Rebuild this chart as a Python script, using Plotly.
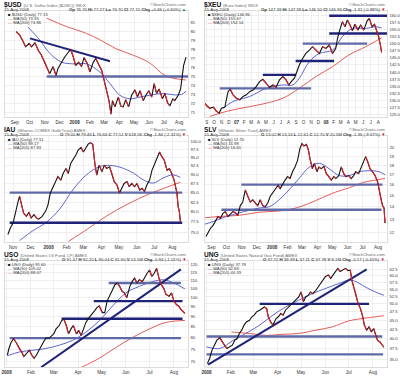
import math
import plotly.graph_objects as go

FONT = "Liberation Sans"
W, H = 400, 380

# ===================== $USD =====================
USD_DATES = ["2007-09-04","2007-09-11","2007-09-18","2007-09-23","2007-09-30","2007-10-05","2007-10-12",
             "2007-10-19","2007-10-25","2007-11-01","2007-11-08","2007-11-11","2007-11-18","2007-11-24",
             "2007-11-28","2007-12-05","2007-12-12","2007-12-19","2007-12-24","2007-12-29","2008-01-03",
             "2008-01-09","2008-01-15","2008-01-20","2008-01-27","2008-02-01","2008-02-08","2008-02-13",
             "2008-02-18","2008-02-25","2008-03-01","2008-03-06","2008-03-11","2008-03-15","2008-03-18",
             "2008-03-23","2008-03-30","2008-04-04","2008-04-09","2008-04-14","2008-04-20","2008-04-26",
             "2008-05-03","2008-05-08","2008-05-13","2008-05-20","2008-05-25","2008-05-31","2008-06-06",
             "2008-06-11","2008-06-16","2008-06-21","2008-06-28","2008-07-03","2008-07-08","2008-07-13",
             "2008-07-19","2008-07-23","2008-07-30","2008-08-04","2008-08-07","2008-08-10","2008-08-13",
             "2008-08-15"]
USD_CLOSE = [80.0,79.6,78.9,78.3,78.7,78.3,78.75,77.9,77.4,76.6,75.7,75.3,76.1,75.1,75.9,76.6,77.2,77.7,
             78.0,77.2,76.2,76.6,76.1,77.1,76.4,75.5,76.6,77.0,76.4,75.7,74.6,73.4,72.3,70.8,72.3,71.6,
             72.7,71.7,71.6,72.4,71.6,72.9,73.5,72.7,73.4,72.3,72.9,73.4,72.7,74.2,73.1,73.6,72.5,73.1,
             72.1,71.7,72.5,72.3,72.9,73.6,74.9,76.2,76.8,77.15]
USD_MA50_DATES = ["2007-09-28","2007-10-22","2007-11-11","2007-12-05","2007-12-29","2008-01-25","2008-02-21",
                  "2008-03-13","2008-04-02","2008-04-23","2008-05-13","2008-06-02","2008-06-30","2008-07-20",
                  "2008-08-06","2008-08-15"]
USD_MA50 = [80.5,79.05,77.6,76.6,76.4,76.4,75.5,74.2,72.9,72.5,72.7,72.9,73.1,72.95,73.0,73.35]
USD_MA200_DATES = ["2007-11-05","2007-12-16","2008-01-25","2008-02-21","2008-03-25","2008-04-28","2008-06-02",
                   "2008-07-05","2008-08-15"]
USD_MA200 = [81.5,80.55,79.8,79.1,78.1,77.4,76.5,75.05,74.6]
USD_LEVEL_START = ["2007-11-05"]
USD_LEVEL_END = ["2008-08-19"]
USD_LEVEL_VALUE = [75.0]
USD_LEVEL_DARK = [False]
USD_TREND_DATES = [["2007-10-02", "2008-03-13"]]
USD_TREND_VALUES = [[79.25, 76.7]]
USD_YTICKS = [71, 72, 73, 74, 75, 76, 77, 78, 79, 80, 81]
USD_YTICKTEXT = ["71", "72", "73", "74", "75", "76", "77", "78", "79", "80", "81"]
USD_XTICKS = ["2007-09-01","2007-10-01","2007-11-01","2007-12-01","2008-01-01","2008-02-01","2008-03-01",
              "2008-04-01","2008-05-01","2008-06-01","2008-07-01","2008-08-01"]
USD_XTICKTEXT = ["Sep","Oct","Nov","Dec","<b>2008</b>","Feb","Mar","Apr","May","Jun","Jul","Aug"]

# ===================== $XEU =====================
XEU_DATES = ["2006-08-25","2006-09-01","2006-09-14","2006-09-28","2006-10-11","2006-10-22","2006-10-31",
             "2006-11-14","2006-11-27","2006-12-06","2006-12-17","2006-12-31","2007-01-14","2007-01-27",
             "2007-02-10","2007-02-23","2007-03-09","2007-03-22","2007-04-05","2007-04-18","2007-05-02",
             "2007-05-15","2007-05-29","2007-06-11","2007-06-25","2007-07-09","2007-07-22","2007-08-02",
             "2007-08-12","2007-08-25","2007-09-04","2007-09-14","2007-09-28","2007-10-11","2007-10-25",
             "2007-11-07","2007-11-21","2007-12-05","2007-12-18","2008-01-01","2008-01-14","2008-01-28",
             "2008-02-10","2008-02-17","2008-02-26","2008-03-08","2008-03-19","2008-03-28","2008-04-08",
             "2008-04-18","2008-04-28","2008-05-10","2008-05-21","2008-06-03","2008-06-17","2008-06-26",
             "2008-07-07","2008-07-17","2008-07-27","2008-08-03","2008-08-10","2008-08-15"]
XEU_CLOSE = [128.9,128.0,127.1,127.5,126.0,125.4,127.1,127.5,133.0,133.9,131.9,130.7,130.1,131.3,131.9,
             133.0,133.6,134.8,136.6,137.4,136.0,134.6,135.4,134.6,137.2,138.4,137.2,135.4,136.6,137.8,
             140.1,142.5,144.9,146.6,147.8,149.0,147.8,146.6,149.0,148.4,149.6,146.6,148.4,152.0,154.9,
             157.9,156.1,158.5,156.7,154.7,157.0,154.9,156.7,154.9,158.2,159.1,156.1,157.0,154.3,152.6,
             149.6,146.96]
XEU_MA50_DATES = ["2006-11-07","2006-12-17","2007-02-23","2007-05-02","2007-07-09","2007-08-18","2007-09-14",
                  "2007-10-25","2007-12-05","2008-01-28","2008-03-08","2008-04-18","2008-06-11","2008-07-21",
                  "2008-08-15"]
XEU_MA50 = [127.1,129.5,131.3,134.2,135.4,135.4,137.8,143.7,146.6,147.8,152.6,155.5,155.5,156.1,155.67]
XEU_MA200_DATES = ["2006-09-14","2006-11-21","2007-02-23","2007-05-02","2007-07-09","2007-09-14","2007-11-21",
                   "2008-01-28","2008-04-04","2008-06-11","2008-08-15"]
XEU_MA200 = [124.2,126.0,127.7,128.9,130.7,134.2,138.4,141.9,146.1,149.0,152.14]
XEU_LEVEL_START = ["2008-01-14","2008-01-14","2007-09-28","2007-08-30","2007-04-18","2006-10-24"]
XEU_LEVEL_END = ["2008-09-06","2008-09-06","2008-06-17","2008-02-03","2007-09-01","2007-11-01"]
XEU_LEVEL_VALUE = [160.0,153.7,150.1,143.9,139.0,134.2]
XEU_LEVEL_DARK = [True,True,False,True,True,False]
XEU_TREND_DATES = []
XEU_TREND_VALUES = []
XEU_YTICKS = [125.0,127.5,130.0,132.5,135.0,137.5,140.0,142.5,145.0,147.5,150.0,152.5,155.0,157.5,160.0]
XEU_YTICKTEXT = ["125.0","127.5","130.0","132.5","135.0","137.5","140.0","142.5","145.0","147.5","150.0",
                 "152.5","155.0","157.5","160.0"]
XEU_XTICKS = ["2006-09-01","2006-10-01","2006-11-01","2006-12-01","2007-01-01","2007-02-01","2007-03-01",
              "2007-04-01","2007-05-01","2007-06-01","2007-07-01","2007-08-01","2007-09-01","2007-10-01",
              "2007-11-01","2007-12-01","2008-01-01","2008-02-01","2008-03-01","2008-04-01","2008-05-01",
              "2008-06-01","2008-07-01","2008-08-01"]
XEU_XTICKTEXT = ["S","O","N","D","<b>07</b>","F","M","A","M","J","J","A","S","O","N","D","<b>08</b>",
                 "F","M","A","M","J","J","A"]

# ===================== IAU =====================
IAU_DATES = ["2007-10-23","2007-10-27","2007-11-01","2007-11-05","2007-11-09","2007-11-12","2007-11-15",
             "2007-11-19","2007-11-24","2007-11-28","2007-12-02","2007-12-07","2007-12-11","2007-12-15",
             "2007-12-21","2007-12-27","2007-12-31","2008-01-04","2008-01-09","2008-01-13","2008-01-17",
             "2008-01-22","2008-01-26","2008-01-31","2008-02-04","2008-02-08","2008-02-12","2008-02-17",
             "2008-02-21","2008-02-26","2008-03-01","2008-03-05","2008-03-09","2008-03-13","2008-03-17",
             "2008-03-21","2008-03-24","2008-03-28","2008-04-02","2008-04-06","2008-04-10","2008-04-15",
             "2008-04-19","2008-04-23","2008-04-28","2008-05-02","2008-05-06","2008-05-10","2008-05-15",
             "2008-05-19","2008-05-23","2008-05-28","2008-06-01","2008-06-06","2008-06-10","2008-06-14",
             "2008-06-18","2008-06-23","2008-06-27","2008-07-01","2008-07-06","2008-07-10","2008-07-14",
             "2008-07-18","2008-07-23","2008-07-27","2008-07-31","2008-08-04","2008-08-09","2008-08-11",
             "2008-08-13","2008-08-15"]
IAU_CLOSE = [74.5,76.0,77.3,80.2,82.3,84.1,82.1,79.7,78.9,79.9,78.5,79.3,78.5,78.2,78.9,80.2,81.8,84.9,
             86.6,88.0,89.4,88.4,90.3,91.7,90.3,93.2,94.2,95.7,97.2,98.0,96.6,98.0,99.0,99.5,99.0,92.7,
             89.8,92.7,90.8,92.7,91.7,92.2,90.3,88.0,87.0,84.9,86.2,87.5,88.0,86.6,87.5,86.6,87.5,85.7,
             86.2,85.3,87.0,88.5,91.2,92.7,94.7,96.6,95.2,94.2,91.2,91.7,90.3,88.5,84.9,81.4,80.2,77.51]
IAU_MA50_DATES = ["2007-11-12","2007-12-05","2007-12-28","2008-01-20","2008-02-12","2008-03-06","2008-03-29",
                  "2008-04-15","2008-05-03","2008-05-26","2008-06-12","2008-06-29","2008-07-16","2008-08-02",
                  "2008-08-15"]
IAU_MA50 = [73.1,75.4,77.4,80.7,85.8,89.9,92.3,92.6,92.1,90.4,88.5,87.6,89.0,89.9,89.17]
IAU_MA200_DATES = ["2008-02-04","2008-03-08","2008-04-10","2008-05-15","2008-06-23","2008-07-23","2008-08-15"]
IAU_MA200 = [72.9,75.8,79.0,81.9,84.7,86.5,87.83]
IAU_LEVEL_START = ["2007-10-26","2007-10-26"]
IAU_LEVEL_END = ["2008-08-18","2008-08-18"]
IAU_LEVEL_VALUE = [85.0,77.3]
IAU_LEVEL_DARK = [False,True]
IAU_TREND_DATES = []
IAU_TREND_VALUES = []
IAU_YTICKS = [75.0,77.5,80.0,82.5,85.0,87.5,90.0,92.5,95.0,97.5,100.0]
IAU_YTICKTEXT = ["75.0","77.5","80.0","82.5","85.0","87.5","90.0","92.5","95.0","97.5","100.0"]
IAU_XTICKS = ["2007-11-01","2007-12-01","2008-01-01","2008-02-01","2008-03-01","2008-04-01","2008-05-01",
              "2008-06-01","2008-07-01","2008-08-01"]
IAU_XTICKTEXT = ["Nov","Dec","<b>2008</b>","Feb","Mar","Apr","May","Jun","Jul","Aug"]

# ===================== SLV =====================
SLV_DATES = ["2007-08-21","2007-08-25","2007-08-30","2007-09-04","2007-09-09","2007-09-14","2007-09-19",
             "2007-09-24","2007-09-29","2007-10-04","2007-10-09","2007-10-14","2007-10-19","2007-10-24",
             "2007-10-29","2007-11-03","2007-11-08","2007-11-13","2007-11-18","2007-11-23","2007-11-28",
             "2007-12-03","2007-12-08","2007-12-13","2007-12-18","2007-12-23","2007-12-28","2008-01-02",
             "2008-01-07","2008-01-13","2008-01-17","2008-01-22","2008-01-27","2008-02-01","2008-02-06",
             "2008-02-11","2008-02-16","2008-02-21","2008-02-26","2008-03-01","2008-03-05","2008-03-10",
             "2008-03-14","2008-03-17","2008-03-22","2008-03-26","2008-03-31","2008-04-04","2008-04-09",
             "2008-04-14","2008-04-19","2008-04-24","2008-04-29","2008-05-04","2008-05-08","2008-05-14",
             "2008-05-19","2008-05-24","2008-05-28","2008-06-03","2008-06-08","2008-06-13","2008-06-17",
             "2008-06-23","2008-06-28","2008-07-03","2008-07-07","2008-07-11","2008-07-16","2008-07-21",
             "2008-07-26","2008-07-31","2008-08-04","2008-08-07","2008-08-10","2008-08-13","2008-08-15"]
SLV_CLOSE = [11.7,12.0,12.3,12.5,12.9,13.2,13.05,13.45,13.6,13.2,13.4,13.6,13.5,13.3,14.1,14.4,15.5,14.9,
             14.4,14.6,14.3,14.1,14.6,14.1,14.0,14.3,14.9,15.2,15.6,15.95,15.6,16.1,16.45,16.8,16.6,17.3,
             17.8,18.5,19.9,20.5,20.2,20.4,19.7,18.75,17.6,18.2,17.3,17.8,17.6,17.9,17.1,16.8,16.45,16.8,
             16.6,16.9,17.8,17.1,16.8,16.9,16.6,16.9,17.3,17.1,17.8,18.4,18.95,18.4,17.6,17.3,16.9,16.3,
             15.3,14.6,14.1,13.9,12.70]
SLV_MA50_DATES = ["2007-08-18","2007-09-04","2007-10-01","2007-10-27","2007-11-16","2007-12-06","2007-12-26",
                  "2008-01-15","2008-02-04","2008-02-24","2008-03-16","2008-04-05","2008-04-25","2008-05-15",
                  "2008-06-04","2008-06-24","2008-07-14","2008-08-03","2008-08-15"]
SLV_MA50 = [12.6,12.8,13.2,13.5,13.7,13.9,14.0,14.6,15.5,16.6,17.8,18.2,17.6,16.9,16.9,17.3,17.4,17.3,16.98]
SLV_MA200_DATES = ["2007-08-18","2007-09-17","2007-10-27","2007-12-06","2008-01-15","2008-02-18","2008-03-16",
                   "2008-04-11","2008-05-08","2008-06-04","2008-07-01","2008-07-21","2008-08-15"]
SLV_MA200 = [13.1,13.2,13.3,13.55,13.65,13.9,14.3,14.8,15.3,15.7,16.2,16.4,16.61]
SLV_LEVEL_START = ["2007-10-31","2007-09-21"]
SLV_LEVEL_END = ["2008-08-10","2008-08-08"]
SLV_LEVEL_VALUE = [16.0,13.75]
SLV_LEVEL_DARK = [False,False]
SLV_TREND_DATES = []
SLV_TREND_VALUES = []
SLV_YTICKS = [12,13,14,15,16,17,18,19,20]
SLV_YTICKTEXT = ["12","13","14","15","16","17","18","19","20"]
SLV_XTICKS = USD_XTICKS
SLV_XTICKTEXT = USD_XTICKTEXT

# ===================== USO =====================
USO_DATES = ["2008-01-02","2008-01-04","2008-01-07","2008-01-10","2008-01-14","2008-01-17","2008-01-20",
             "2008-01-23","2008-01-26","2008-01-30","2008-02-02","2008-02-05","2008-02-08","2008-02-12",
             "2008-02-14","2008-02-17","2008-02-20","2008-02-24","2008-02-27","2008-03-01","2008-03-04",
             "2008-03-08","2008-03-11","2008-03-14","2008-03-17","2008-03-20","2008-03-23","2008-03-26",
             "2008-03-30","2008-04-02","2008-04-05","2008-04-08","2008-04-11","2008-04-15","2008-04-18",
             "2008-04-22","2008-04-25","2008-04-28","2008-05-02","2008-05-05","2008-05-08","2008-05-11",
             "2008-05-15","2008-05-18","2008-05-21","2008-05-24","2008-05-27","2008-05-30","2008-06-02",
             "2008-06-06","2008-06-09","2008-06-12","2008-06-15","2008-06-18","2008-06-22","2008-06-25",
             "2008-06-28","2008-07-01","2008-07-04","2008-07-07","2008-07-10","2008-07-13","2008-07-16",
             "2008-07-19","2008-07-22","2008-07-26","2008-07-29","2008-08-01","2008-08-04","2008-08-07",
             "2008-08-10","2008-08-15"]
USO_CLOSE = [72.6,75.3,78.1,79.5,77.4,75.3,73.9,72.0,73.3,74.6,72.6,71.3,72.6,75.3,76.7,78.1,79.8,79.8,
             80.7,81.7,84.0,85.6,87.9,88.7,85.6,81.7,84.0,85.6,81.7,83.3,81.0,84.0,87.1,89.5,91.2,92.9,
             94.6,95.5,92.0,92.0,98.1,100.8,104.6,107.5,108.5,106.5,103.6,102.7,99.9,106.5,109.5,111.5,
             108.5,110.5,109.5,112.5,114.6,116.7,112.5,114.6,117.8,111.5,107.5,105.5,101.8,100.8,102.7,
             98.1,96.3,95.5,93.7,91.60]
USO_MA50_DATES = ["2008-01-02","2008-01-18","2008-02-04","2008-02-20","2008-03-08","2008-03-25","2008-04-11",
                  "2008-04-28","2008-05-15","2008-06-01","2008-06-18","2008-07-06","2008-07-19","2008-08-01",
                  "2008-08-15"]
USO_MA50 = [72.3,73.9,74.6,75.3,76.7,78.8,82.5,87.9,95.5,102.7,106.5,109.5,110.5,108.5,105.02]
USO_MA200_DATES = ["2008-04-06","2008-04-28","2008-05-20","2008-06-10","2008-07-01","2008-07-22","2008-08-15"]
USO_MA200 = [67.9,71.3,75.9,80.2,84.0,87.1,88.07]
USO_LEVEL_START = ["2008-05-10","2008-04-21","2008-03-11","2008-01-05"]
USO_LEVEL_END = ["2008-08-10","2008-08-12","2008-08-12","2008-08-10"]
USO_LEVEL_VALUE = [108.5,98.1,88.9,79.8]
USO_LEVEL_DARK = [False,True,True,False]
USO_TREND_DATES = [["2008-02-14", "2008-08-10"]]
USO_TREND_VALUES = [[67.8, 117.1]]
USO_YTICKS = [70,75,80,85,90,95,100,105,110,115,120]
USO_YTICKTEXT = ["70","75","80","85","90","95","100","105","110","115","120"]
USO_XTICKS = ["2008-01-01","2008-02-01","2008-03-01","2008-04-01","2008-05-01","2008-06-01","2008-07-01",
              "2008-08-01"]
USO_XTICKTEXT = ["<b>2008</b>","Feb","Mar","Apr","May","Jun","Jul","Aug"]

# ===================== UNG =====================
UNG_DATES = ["2008-01-02","2008-01-05","2008-01-08","2008-01-11","2008-01-14","2008-01-18","2008-01-21",
             "2008-01-24","2008-01-27","2008-01-30","2008-02-03","2008-02-06","2008-02-09","2008-02-12",
             "2008-02-15","2008-02-18","2008-02-21","2008-02-25","2008-02-28","2008-03-02","2008-03-05",
             "2008-03-09","2008-03-12","2008-03-15","2008-03-18","2008-03-20","2008-03-23","2008-03-26",
             "2008-03-30","2008-04-02","2008-04-05","2008-04-08","2008-04-11","2008-04-15","2008-04-18",
             "2008-04-21","2008-04-24","2008-04-28","2008-05-01","2008-05-04","2008-05-07","2008-05-10",
             "2008-05-13","2008-05-16","2008-05-20","2008-05-23","2008-05-26","2008-05-29","2008-06-01",
             "2008-06-05","2008-06-08","2008-06-11","2008-06-14","2008-06-17","2008-06-20","2008-06-23",
             "2008-06-27","2008-06-30","2008-07-03","2008-07-05","2008-07-08","2008-07-10","2008-07-13",
             "2008-07-16","2008-07-19","2008-07-21","2008-07-24","2008-07-27","2008-07-30","2008-08-02",
             "2008-08-05","2008-08-07","2008-08-10","2008-08-15"]
UNG_CLOSE = [34.0,35.2,37.1,38.3,39.5,40.2,39.1,38.3,37.5,37.9,38.3,39.5,39.9,41.3,42.2,43.6,44.5,45.0,
             46.0,46.5,47.5,48.0,48.5,49.0,48.5,46.0,44.5,43.6,45.5,46.0,47.0,46.5,48.0,49.0,49.6,50.7,
             51.2,52.3,54.0,50.7,52.3,52.8,54.0,53.4,54.6,55.8,57.0,58.3,59.6,60.3,58.9,60.3,61.6,62.9,
             61.6,62.2,62.9,62.0,62.2,58.3,55.2,53.4,50.1,48.5,46.0,43.6,42.2,43.1,41.8,42.6,40.4,39.5,
             39.1,37.78]
UNG_MA50_DATES = ["2008-01-01","2008-01-18","2008-02-04","2008-02-20","2008-03-09","2008-03-26","2008-04-11",
                  "2008-04-28","2008-05-15","2008-06-01","2008-06-18","2008-07-01","2008-07-09","2008-07-22",
                  "2008-08-04","2008-08-15"]
UNG_MA50 = [37.9,37.5,39.5,41.3,43.6,46.5,49.0,51.2,53.4,55.2,57.0,58.3,57.9,55.8,54.0,52.89]
UNG_MA200_DATES = ["2008-02-02","2008-02-25","2008-03-18","2008-04-08","2008-04-28","2008-05-20","2008-06-10",
                   "2008-07-01","2008-07-22","2008-08-15"]
UNG_MA200 = [41.7,41.3,40.8,41.1,41.3,42.2,43.1,44.8,45.6,46.33]
UNG_LEVEL_START = ["2008-03-09","2008-01-01","2008-01-01"]
UNG_LEVEL_END = ["2008-07-27","2008-08-13","2008-08-14"]
UNG_LEVEL_VALUE = [50.0,40.5,36.1]
UNG_LEVEL_DARK = [True,False,False]
UNG_TREND_DATES = [["2008-01-03", "2008-07-24"]]
UNG_TREND_VALUES = [[33.8, 62.5]]
UNG_YTICKS = [35.0,37.5,40.0,42.5,45.0,47.5,50.0,52.5,55.0,57.5,60.0,62.5]
UNG_YTICKTEXT = ["35.0","37.5","40.0","42.5","45.0","47.5","50.0","52.5","55.0","57.5","60.0","62.5"]
UNG_XTICKS = USO_XTICKS
UNG_XTICKTEXT = USO_XTICKTEXT

# ===================== header texts =====================
SYMBOLS = ["$USD", "$XEU", "IAU", "SLV", "USO", "UNG"]
DESCS = ["(U.S. Dollar Index ($USD)) INDX", "(Euro Index) INDX", "(iShares COMEX Gold Trust) AMEX",
         "(iShares Silver Trust) AMEX", "(United States Oil Fund, LP) AMEX",
         "(United States Natural Gas Fund) AMEX"]
QUOTES = ["<b>Op</b> 76.70 <b>Hi</b> 77.27 <b>Lo</b> 76.70 <b>Cl</b> 77.15 <b>Chg</b> +0.46 (+0.60%)",
          "<b>Op</b> 147.39 <b>Hi</b> 147.39 <b>Lo</b> 146.50 <b>Cl</b> 146.96 <b>Chg</b> -1.31 (-0.88%)",
          "<b>O</b> 79.00 <b>H</b> 79.46 <b>L</b> 76.66 <b>C</b> 77.51 <b>V</b> 618.5K <b>Chg</b> -1.84 (-2.31%)",
          "<b>O</b> 13.02 <b>H</b> 13.16 <b>L</b> 12.61 <b>C</b> 12.70 <b>V</b> 20.5M <b>Chg</b> -1.36 (-9.67%)",
          "<b>O</b> 91.47 <b>H</b> 92.20 <b>L</b> 90.04 <b>C</b> 91.60 <b>V</b> 14.1M <b>Chg</b> -0.94 (-1.01%)",
          "<b>O</b> 37.72 <b>H</b> 38.39 <b>L</b> 37.11 <b>C</b> 37.78 <b>V</b> 8.1M <b>Chg</b> -0.17 (-0.45%)"]
UP = [True, False, False, False, False, False]
LAST = ["77.15", "146.96", "77.51", "12.70", "91.60", "37.78"]
MA50_LAST = ["73.35", "155.67", "89.17", "16.98", "105.02", "52.89"]
MA200_LAST = ["74.86", "152.14", "87.83", "16.61", "88.07", "46.33"]
DATE_TEXT = "15-Aug-2008"

SERIES = [
    dict(d=USD_DATES, c=USD_CLOSE, m50d=USD_MA50_DATES, m50=USD_MA50, m200d=USD_MA200_DATES, m200=USD_MA200,
         ls=USD_LEVEL_START, le=USD_LEVEL_END, lv=USD_LEVEL_VALUE, ldark=USD_LEVEL_DARK,
         td=USD_TREND_DATES, tv=USD_TREND_VALUES, yt=USD_YTICKS, ytt=USD_YTICKTEXT, xt=USD_XTICKS,
         xtt=USD_XTICKTEXT, xr=["2007-08-12", "2008-08-19"], yr=[70.44, 82.3], log=False),
    dict(d=XEU_DATES, c=XEU_CLOSE, m50d=XEU_MA50_DATES, m50=XEU_MA50, m200d=XEU_MA200_DATES, m200=XEU_MA200,
         ls=XEU_LEVEL_START, le=XEU_LEVEL_END, lv=XEU_LEVEL_VALUE, ldark=XEU_LEVEL_DARK,
         td=XEU_TREND_DATES, tv=XEU_TREND_VALUES, yt=XEU_YTICKS, ytt=XEU_YTICKTEXT, xt=XEU_XTICKS,
         xtt=XEU_XTICKTEXT, xr=["2006-08-25", "2008-09-06"], yr=[123.9, 161.7], log=False),
    dict(d=IAU_DATES, c=IAU_CLOSE, m50d=IAU_MA50_DATES, m50=IAU_MA50, m200d=IAU_MA200_DATES, m200=IAU_MA200,
         ls=IAU_LEVEL_START, le=IAU_LEVEL_END, lv=IAU_LEVEL_VALUE, ldark=IAU_LEVEL_DARK,
         td=IAU_TREND_DATES, tv=IAU_TREND_VALUES, yt=IAU_YTICKS, ytt=IAU_YTICKTEXT, xt=IAU_XTICKS,
         xtt=IAU_XTICKTEXT, xr=["2007-10-18", "2008-08-28"], yr=[72.7, 101.6], log=True),
    dict(d=SLV_DATES, c=SLV_CLOSE, m50d=SLV_MA50_DATES, m50=SLV_MA50, m200d=SLV_MA200_DATES, m200=SLV_MA200,
         ls=SLV_LEVEL_START, le=SLV_LEVEL_END, lv=SLV_LEVEL_VALUE, ldark=SLV_LEVEL_DARK,
         td=SLV_TREND_DATES, tv=SLV_TREND_VALUES, yt=SLV_YTICKS, ytt=SLV_YTICKTEXT, xt=SLV_XTICKS,
         xtt=SLV_XTICKTEXT, xr=["2007-08-19", "2008-08-19"], yr=[11.3, 21.46], log=True),
    dict(d=USO_DATES, c=USO_CLOSE, m50d=USO_MA50_DATES, m50=USO_MA50, m200d=USO_MA200_DATES, m200=USO_MA200,
         ls=USO_LEVEL_START, le=USO_LEVEL_END, lv=USO_LEVEL_VALUE, ldark=USO_LEVEL_DARK,
         td=USO_TREND_DATES, tv=USO_TREND_VALUES, yt=USO_YTICKS, ytt=USO_YTICKTEXT, xt=USO_XTICKS,
         xtt=USO_XTICKTEXT, xr=["2007-12-30", "2008-08-19"], yr=[67.8, 122.7], log=True),
    dict(d=UNG_DATES, c=UNG_CLOSE, m50d=UNG_MA50_DATES, m50=UNG_MA50, m200d=UNG_MA200_DATES, m200=UNG_MA200,
         ls=UNG_LEVEL_START, le=UNG_LEVEL_END, lv=UNG_LEVEL_VALUE, ldark=UNG_LEVEL_DARK,
         td=UNG_TREND_DATES, tv=UNG_TREND_VALUES, yt=UNG_YTICKS, ytt=UNG_YTICKTEXT, xt=UNG_XTICKS,
         xtt=UNG_XTICKTEXT, xr=["2007-12-30", "2008-08-19"], yr=[33.2, 65.96], log=True),
]

# ===================== styling / geometry =====================
COL_X = [(5, 188), (205, 387)]          # plot left/right in px, per column
ROW_TOP = [0, 125, 250]                 # panel top in px
PLOT_T, PLOT_B = 11, 117.3              # plot top/bottom offset within a panel
DARK = "#1e2278"
SLATE = "#5f6aa6"
MA50_C = "#4a55c8"
MA200_C = "#e04848"
UPC = "#111111"
DOWNC = "#e0202a"
GRID = "#e4e4e4"
TXT = "#333333"
SUB = "#666666"


def px(x):
    return x / W


def py(y):
    return 1 - y / H


fig = go.Figure()
annotations = []
layout = {}

for i, s in enumerate(SERIES):
    col, row = i % 2, i // 2
    x0, x1 = COL_X[col]
    top = ROW_TOP[row]
    suffix = "" if i == 0 else str(i + 1)
    xa, ya = "x" + suffix, "y" + suffix

    # moving averages
    fig.add_trace(go.Scatter(x=s["m200d"], y=s["m200"], mode="lines", xaxis=xa, yaxis=ya,
                             line=dict(color=MA200_C, width=0.9, shape="spline"), hoverinfo="skip"))
    fig.add_trace(go.Scatter(x=s["m50d"], y=s["m50"], mode="lines", xaxis=xa, yaxis=ya,
                             line=dict(color=MA50_C, width=0.9, shape="spline"), hoverinfo="skip"))
    # horizontal support/resistance lines
    for a, b, v, dk in zip(s["ls"], s["le"], s["lv"], s["ldark"]):
        fig.add_trace(go.Scatter(x=[a, b], y=[v, v], mode="lines", xaxis=xa, yaxis=ya,
                                 line=dict(color=DARK if dk else SLATE, width=2.4), hoverinfo="skip"))
    # trend lines
    for dd, vv in zip(s["td"], s["tv"]):
        fig.add_trace(go.Scatter(x=dd, y=vv, mode="lines", xaxis=xa, yaxis=ya,
                                 line=dict(color=DARK, width=2.0), hoverinfo="skip"))
    # price: black line, red on declining segments
    fig.add_trace(go.Scatter(x=s["d"], y=s["c"], mode="lines", xaxis=xa, yaxis=ya,
                             line=dict(color=UPC, width=1.1), hoverinfo="skip"))
    rx, ry = [], []
    for k in range(1, len(s["c"])):
        if s["c"][k] < s["c"][k - 1]:
            rx += [s["d"][k - 1], s["d"][k], None]
            ry += [s["c"][k - 1], s["c"][k], None]
    fig.add_trace(go.Scatter(x=rx, y=ry, mode="lines", xaxis=xa, yaxis=ya,
                             line=dict(color=DOWNC, width=1.1), hoverinfo="skip", connectgaps=False))

    yr = [math.log10(v) for v in s["yr"]] if s["log"] else s["yr"]
    layout["xaxis" + suffix] = dict(
        domain=[px(x0), px(x1)], anchor=ya, type="date", range=s["xr"],
        tickvals=s["xt"], ticktext=s["xtt"], tickfont=dict(size=4.6, color=TXT, family=FONT),
        showgrid=True, gridcolor=GRID, gridwidth=0.6, showline=True, mirror=True, linecolor="#c4c4c4",
        linewidth=0.6, ticks="", zeroline=False, automargin=False, fixedrange=True, ticklabelstandoff=1)
    layout["yaxis" + suffix] = dict(
        domain=[py(top + PLOT_B), py(top + PLOT_T)], anchor=xa, side="right",
        type="log" if s["log"] else "linear", range=yr,
        tickvals=s["yt"], ticktext=s["ytt"], tickfont=dict(size=4.2, color=TXT, family=FONT),
        showgrid=True, gridcolor=GRID, gridwidth=0.6, showline=True, mirror=True, linecolor="#c4c4c4",
        linewidth=0.6, ticks="", zeroline=False, automargin=False, fixedrange=True, ticklabelstandoff=1)

    pleft = x0 - 3
    # title line
    annotations.append(dict(
        x=px(pleft), y=py(top + 4.6), xref="paper", yref="paper", xanchor="left", yanchor="middle",
        showarrow=False,
        text=f"<b>{SYMBOLS[i]}</b> <span style='font-size:4.3px;color:{SUB}'>{DESCS[i]}</span>",
        font=dict(size=6.6, color="#111", family=FONT)))
    annotations.append(dict(
        x=px(x1), y=py(top + 4.6), xref="paper", yref="paper", xanchor="right", yanchor="middle",
        showarrow=False, text="©StockCharts.com", font=dict(size=4.3, color=SUB, family=FONT)))
    # date / quote line
    annotations.append(dict(
        x=px(pleft), y=py(top + 9.3), xref="paper", yref="paper", xanchor="left", yanchor="middle",
        showarrow=False, text=DATE_TEXT, font=dict(size=4.3, color=TXT, family=FONT)))
    arrow = "<span style='color:#1a8a1a'>▲</span>" if UP[i] else "<span style='color:#d01010'>▼</span>"
    annotations.append(dict(
        x=px(x1), y=py(top + 9.3), xref="paper", yref="paper", xanchor="right", yanchor="middle",
        showarrow=False, text=QUOTES[i] + " " + arrow, font=dict(size=4.3, color=TXT, family=FONT)))
    # legend inside plot
    leg = [
        f"<span style='color:#111'>■</span> {SYMBOLS[i]} (Daily) {LAST[i]}",
        f"<span style='color:{MA50_C}'>—</span> MA(50) {MA50_LAST[i]}",
        f"<span style='color:{MA200_C}'>—</span> MA(200) {MA200_LAST[i]}",
    ]
    for j, t in enumerate(leg):
        annotations.append(dict(
            x=px(x0 + 0.5), y=py(top + 14.2 + 4.1 * j), xref="paper", yref="paper", xanchor="left",
            yanchor="middle", showarrow=False, text=t, font=dict(size=4.2, color=TXT, family=FONT)))

fig.update_layout(
    width=W, height=H, autosize=False, margin=dict(l=0, r=0, t=0, b=0),
    paper_bgcolor="white", plot_bgcolor="white", showlegend=False, template="none",
    annotations=annotations, font=dict(family=FONT, size=5, color=TXT), **layout)

fig.write_html("out.html", config={"displayModeBar": False, "staticPlot": True},
               post_script="document.body.style.margin='0';document.body.style.overflow='hidden';")
